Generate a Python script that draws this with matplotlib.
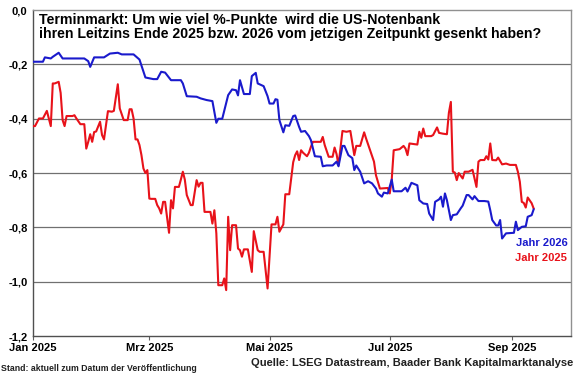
import numpy as np
import matplotlib
matplotlib.use("Agg")
import matplotlib.pyplot as plt

plt.rcParams['font.family'] = ['Liberation Sans', 'DejaVu Sans']
plt.rcParams['font.weight'] = 'bold'

# Tage seit 1.1.2025 und Werte
blue_day = [0, 5, 6, 9, 10, 13, 15, 26, 28, 29, 31, 36, 39, 43, 45, 51, 54, 57, 61, 63,
            65, 67, 70, 75, 76, 78, 83, 85, 88, 91, 93, 94, 96, 99, 101, 103, 104, 105, 107, 110,
            111, 113, 114, 117, 119, 120, 122, 123, 124, 125, 127, 128, 130, 132, 133, 135, 136, 138, 140, 141,
            143, 146, 147, 149, 152, 154, 155, 157, 158, 160, 162, 163, 164, 166, 168, 170, 172, 174, 175, 177,
            178, 180, 182, 183, 187, 189, 190, 192, 195, 196, 198, 200, 201, 203, 204, 206, 207, 208, 209, 210,
            212, 213, 215, 217, 218, 220, 221, 223, 224, 226, 229, 231, 232, 233, 235, 236, 237, 238, 240, 244,
            245, 246, 248, 250, 251, 253, 254]
blue_val = [-0.19, -0.19, -0.174, -0.178, -0.172, -0.157, -0.178, -0.178, -0.188, -0.209,
            -0.174, -0.174, -0.160, -0.157, -0.163, -0.163, -0.182, -0.248, -0.254, -0.254,
            -0.227, -0.230, -0.258, -0.258, -0.27, -0.317, -0.319, -0.325, -0.331, -0.335,
            -0.415, -0.40, -0.40, -0.313, -0.292, -0.295, -0.314, -0.258, -0.309, -0.309,
            -0.243, -0.231, -0.27, -0.28, -0.317, -0.344, -0.344, -0.328, -0.33, -0.405,
            -0.45, -0.424, -0.426, -0.39, -0.388, -0.43, -0.448, -0.445, -0.464, -0.479,
            -0.538, -0.54, -0.575, -0.572, -0.572, -0.558, -0.575, -0.50, -0.50, -0.534,
            -0.545, -0.589, -0.572, -0.595, -0.638, -0.63, -0.638, -0.657, -0.675, -0.687,
            -0.672, -0.675, -0.624, -0.667, -0.667, -0.654, -0.668, -0.636, -0.645, -0.70,
            -0.712, -0.714, -0.749, -0.773, -0.706, -0.697, -0.687, -0.724, -0.675, -0.70,
            -0.773, -0.755, -0.752, -0.73, -0.72, -0.681, -0.681, -0.697, -0.685, -0.703,
            -0.703, -0.705, -0.737, -0.773, -0.793, -0.793, -0.773, -0.841, -0.822, -0.82,
            -0.779, -0.81, -0.798, -0.796, -0.761, -0.755, -0.734]

red_day = [0, 1, 3, 5, 7, 8, 9, 10, 11, 13, 14, 15, 16, 17, 20, 21, 22, 24, 26, 27,
           28, 29, 30, 31, 32, 34, 35, 36, 37, 38, 40, 41, 43, 44, 46, 48, 49, 50, 51, 52,
           53, 54, 55, 56, 57, 58, 59, 60, 62, 63, 64, 65, 66, 67, 69, 70, 71, 72, 74, 75,
           76, 77, 78, 80, 81, 83, 84, 85, 86, 87, 90, 91, 92, 93, 94, 96, 97, 98, 99, 100,
           101, 103, 104, 105, 106, 107, 109, 111, 112, 114, 115, 117, 119, 121, 123, 124, 125, 127, 128, 130,
           132, 133, 134, 135, 136, 137, 139, 140, 141, 142, 146, 147, 148, 150, 152, 153, 154, 155, 157, 159,
           161, 162, 163, 164, 166, 168, 169, 171, 173, 174, 176, 180, 181, 182, 183, 186, 188, 189, 190, 191,
           195, 196, 197, 198, 199, 202, 203, 205, 206, 208, 210, 211, 212, 213, 214, 215, 216, 218, 219, 221,
           223, 224, 225, 226, 227, 229, 230, 231, 232, 233, 235, 236, 238, 240, 242, 245, 246, 247, 248, 249,
           250, 251, 253, 254]
red_val = [-0.427, -0.427, -0.399, -0.399, -0.371, -0.399, -0.427, -0.27, -0.27, -0.264,
           -0.305, -0.405, -0.427, -0.39, -0.39, -0.387, -0.399, -0.42, -0.42, -0.51,
           -0.485, -0.457, -0.485, -0.449, -0.447, -0.411, -0.46, -0.476, -0.424, -0.372,
           -0.374, -0.371, -0.273, -0.362, -0.405, -0.405, -0.365, -0.365, -0.399, -0.476,
           -0.476, -0.497, -0.534, -0.583, -0.60, -0.589, -0.694, -0.695, -0.695, -0.718,
           -0.73, -0.749, -0.706, -0.706, -0.82, -0.70, -0.73, -0.651, -0.651, -0.624,
           -0.595, -0.624, -0.681, -0.718, -0.718, -0.626, -0.65, -0.636, -0.636, -0.743,
           -0.743, -0.786, -0.737, -0.822, -1.013, -1.013, -0.988, -1.031, -0.761, -0.884,
           -0.792, -0.792, -0.878, -0.884, -0.908, -0.881, -0.881, -0.964, -0.814, -0.884,
           -0.89, -0.89, -1.025, -0.789, -0.789, -0.761, -0.816, -0.789, -0.678, -0.678,
           -0.56, -0.534, -0.52, -0.552, -0.516, -0.525, -0.538, -0.525, -0.503, -0.485,
           -0.485, -0.467, -0.497, -0.54, -0.54, -0.506, -0.53, -0.571, -0.445, -0.448,
           -0.445, -0.49, -0.534, -0.50, -0.50, -0.45, -0.473, -0.516, -0.558, -0.608,
           -0.657, -0.655, -0.675, -0.624, -0.516, -0.512, -0.50, -0.51, -0.534, -0.491,
           -0.495, -0.448, -0.47, -0.436, -0.464, -0.464, -0.46, -0.432, -0.452, -0.455,
           -0.457, -0.378, -0.338, -0.595, -0.598, -0.626, -0.60, -0.62, -0.595, -0.595,
           -0.588, -0.62, -0.651, -0.558, -0.552, -0.552, -0.538, -0.55, -0.491, -0.552,
           -0.553, -0.543, -0.568, -0.565, -0.57, -0.57, -0.595, -0.632, -0.706, -0.71,
           -0.727, -0.69, -0.711, -0.73]

tick_dates = ['2025-01-01', '2025-03-01', '2025-05-01', '2025-07-01', '2025-09-01']
tick_labels = ['Jan 2025', 'Mrz 2025', 'Mai 2025', 'Jul 2025', 'Sep 2025']
y_ticks = [0.0, -0.2, -0.4, -0.6, -0.8, -1.0, -1.2]

start = np.datetime64('2025-01-01')
blue_x = start + np.array(blue_day).astype('timedelta64[D]')
red_x = start + np.array(red_day).astype('timedelta64[D]')

fig = plt.figure(figsize=(5.8, 3.75), dpi=100)
ax = fig.add_axes([0.057, 0.104, 0.9276, 0.869])

for y in y_ticks[1:-1]:
    ax.axhline(y, color='#707070', lw=0.9, zorder=1)

ax.plot(red_x, red_val, color='#E8121A', lw=1.5, zorder=3)
ax.plot(blue_x, blue_val, color='#1A1ACC', lw=1.5, zorder=3)

ax.set_xlim(np.datetime64('2025-01-01'), np.datetime64('2025-10-01'))
ax.set_ylim(-1.2, 0.0)
ax.set_xticks(np.array(tick_dates, dtype='datetime64[D]'))
ax.set_xticklabels(tick_labels, fontsize=8, fontweight='bold')
ax.set_yticks(y_ticks)
ax.set_yticklabels([f"{v:.1f}".replace('.', ',') for v in y_ticks], fontsize=8, fontweight='bold')
ax.tick_params(axis='x', length=3, color='#606060', pad=2)
ax.tick_params(axis='y', length=0, pad=4)
for s in ax.spines.values():
    s.set_color('#909090')
    s.set_linewidth(1)
ax.spines['left'].set_color('#505050')
ax.spines['bottom'].set_color('#505050')

ax.text(0.011, 0.99, "Terminmarkt: Um wie viel %-Punkte  wird die US-Notenbank\n"
        "ihren Leitzins Ende 2025 bzw. 2026 vom jetzigen Zeitpunkt gesenkt haben?",
        transform=ax.transAxes, ha='left', va='top', fontsize=10.2, fontweight='bold',
        linespacing=1.0)

ax.text(0.993, 0.285, "Jahr 2026", transform=ax.transAxes, ha='right', va='center',
        fontsize=8, fontweight='bold', color='#1A1ACC')
ax.text(0.993, 0.24, "Jahr 2025", transform=ax.transAxes, ha='right', va='center',
        fontsize=8, fontweight='bold', color='#E8121A')

fig.text(0.002, 0.018, "Stand: aktuell zum Datum der Veröffentlichung", ha='left', va='center',
         fontsize=6.3, fontweight='bold', color='#202020')
fig.text(0.988, 0.032, "Quelle: LSEG Datastream, Baader Bank Kapitalmarktanalyse", ha='right',
         va='center', fontsize=8, fontweight='bold', color='#202020')

fig.savefig('out.png', dpi=100)
